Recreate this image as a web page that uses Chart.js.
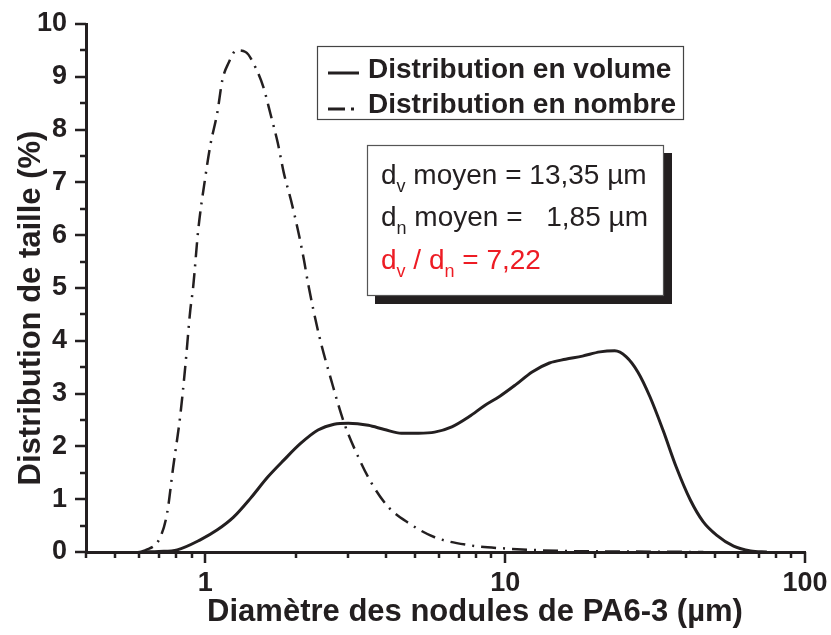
<!DOCTYPE html>
<html>
<head>
<meta charset="utf-8">
<script src="https://cdn.jsdelivr.net/npm/chart.js@4.4.1/dist/chart.umd.min.js"></script>
<style>
  body { margin: 0; background: #fff; }
  #wrap { width: 831px; height: 635px; }
</style>
</head>
<body>
<div id="wrap"><canvas id="graphique" width="831" height="635"></canvas></div>
<script>
// Distribution en volume (diamètre en µm, %)
const volumeX = [0.62, 0.7, 0.806, 0.962, 1.097, 1.242, 1.416, 1.615, 1.827, 2.083, 2.376, 2.69, 2.996, 3.497, 3.955, 4.51, 5.14, 5.82, 6.64, 7.57, 8.57, 9.6, 10.8, 12.3, 14.05, 15.9, 18.1, 20.7, 23.2, 25.3, 27.7, 30.4, 33.6, 37.2, 41.5, 45.8, 50.7, 57.8, 65.9, 74.6];
const volumeY = [0, 0.01, 0.04, 0.23, 0.42, 0.66, 1.02, 1.42, 1.74, 2.06, 2.31, 2.42, 2.44, 2.40, 2.32, 2.25, 2.25, 2.27, 2.37, 2.56, 2.78, 2.95, 3.16, 3.41, 3.58, 3.65, 3.71, 3.79, 3.81, 3.70, 3.41, 2.94, 2.31, 1.61, 0.98, 0.57, 0.32, 0.11, 0.02, 0];

// Distribution en nombre
const nombreX = [0.6, 0.63, 0.706, 0.746, 0.781, 0.824, 0.857, 0.891, 0.911, 0.947, 1.0, 1.039, 1.097, 1.14, 1.195, 1.27, 1.362, 1.472, 1.565, 1.652, 1.744, 1.827, 1.929, 2.036, 2.133, 2.199, 2.394, 2.628, 2.905, 3.237, 3.579, 4.08, 4.76, 5.82, 7.57, 9.77, 15.5, 25, 45.8];
const nombreY = [0, 0.03, 0.27, 0.74, 1.6, 2.56, 3.5, 4.58, 5.02, 6.1, 7.1, 7.7, 8.33, 8.94, 9.26, 9.5, 9.47, 9.17, 8.79, 8.28, 7.75, 7.18, 6.67, 6.1, 5.53, 5.1, 4.11, 3.26, 2.44, 1.8, 1.31, 0.85, 0.55, 0.28, 0.13, 0.07, 0.02, 0.01, 0];

// Graduations
const xMajeures = [1, 10, 100];
const xMineures = [0.4, 0.5, 0.6, 0.7, 0.8, 0.9, 2, 3, 4, 5, 6, 7, 8, 9, 20, 30, 40, 50, 60, 70, 80, 90];
const yMajeures = [0, 1, 2, 3, 4, 5, 6, 7, 8, 9, 10];
const yMineures = [0.5, 1.5, 2.5, 3.5, 4.5, 5.5, 6.5, 7.5, 8.5, 9.5];

const encre = '#231f20';
const rouge = '#ed1c24';
const police = '"Liberation Sans", Arial, Helvetica, sans-serif';

function points(xs, ys) {
    return xs.map(function (x, i) { return { x: x, y: ys[i] }; });
}

// Graduations, titres, légende et encadré
const decor = {
    id: 'decor',
    afterDraw: function (chart) {
        const ctx = chart.ctx;
        const sx = chart.scales.x;
        const sy = chart.scales.y;
        const bas = chart.chartArea.bottom;
        const gauche = chart.chartArea.left;

        ctx.save();
        ctx.strokeStyle = encre;
        ctx.lineWidth = 2.5;
        ctx.beginPath();
        xMajeures.forEach(function (v) {
            const p = Math.round(sx.getPixelForValue(v));
            ctx.moveTo(p, bas); ctx.lineTo(p, bas + 11);
        });
        xMineures.forEach(function (v) {
            const p = Math.round(sx.getPixelForValue(v));
            ctx.moveTo(p, bas); ctx.lineTo(p, bas + 6);
        });
        yMajeures.forEach(function (v) {
            const p = Math.round(sy.getPixelForValue(v));
            ctx.moveTo(gauche, p); ctx.lineTo(gauche - 11, p);
        });
        yMineures.forEach(function (v) {
            const p = Math.round(sy.getPixelForValue(v));
            ctx.moveTo(gauche, p); ctx.lineTo(gauche - 6, p);
        });
        ctx.stroke();

        // Titres des axes
        ctx.fillStyle = encre;
        ctx.font = 'bold 31px ' + police;
        ctx.textAlign = 'center';
        ctx.textBaseline = 'alphabetic';
        ctx.fillText('Diamètre des nodules de PA6-3 (µm)', 475, 621);
        ctx.save();
        ctx.translate(40, 308);
        ctx.rotate(-Math.PI / 2);
        ctx.fillText('Distribution de taille (%)', 0, 0);
        ctx.restore();

        // Légende
        ctx.fillStyle = '#fff';
        ctx.fillRect(317, 46, 366, 73);
        ctx.strokeStyle = '#444';
        ctx.lineWidth = 1.2;
        ctx.strokeRect(317.5, 46.5, 366, 73);
        ctx.strokeStyle = encre;
        ctx.lineWidth = 3;
        ctx.beginPath();
        ctx.moveTo(328, 73); ctx.lineTo(359, 73);
        ctx.moveTo(328, 109); ctx.lineTo(345, 109);
        ctx.moveTo(351, 109); ctx.lineTo(354, 109);
        ctx.stroke();
        ctx.fillStyle = encre;
        ctx.font = 'bold 28px ' + police;
        ctx.textAlign = 'left';
        ctx.fillText('Distribution en volume', 368, 78);
        ctx.fillText('Distribution en nombre', 368, 113);

        // Encadré des diamètres moyens
        ctx.fillStyle = encre;
        ctx.fillRect(375, 153, 297, 151);
        ctx.fillStyle = '#fff';
        ctx.fillRect(367, 145, 296, 150);
        ctx.strokeStyle = '#555';
        ctx.lineWidth = 1.2;
        ctx.strokeRect(367.5, 145.5, 296, 150);

        function ligne(morceaux, x, y, couleur) {
            ctx.fillStyle = couleur;
            morceaux.forEach(function (m) {
                ctx.font = (m.sub ? '18px ' : '28px ') + police;
                ctx.fillText(m.t, x, m.sub ? y + 8 : y);
                x += ctx.measureText(m.t).width;
            });
        }
        ctx.textAlign = 'left';
        ligne([{ t: 'd' }, { t: 'v', sub: true }, { t: ' moyen = 13,35 µm' }], 381, 184, encre);
        ligne([{ t: 'd' }, { t: 'n', sub: true }, { t: ' moyen =' }], 381, 226, encre);
        ctx.textAlign = 'right';
        ctx.font = '28px ' + police;
        ctx.fillText('1,85 µm', 648, 226);
        ctx.textAlign = 'left';
        ligne([{ t: 'd' }, { t: 'v', sub: true }, { t: ' / d' }, { t: 'n', sub: true }, { t: ' = 7,22' }], 381, 269, rouge);
        ctx.restore();
    }
};

new Chart(document.getElementById('graphique'), {
    type: 'line',
    data: {
        datasets: [
            {
                label: 'Distribution en volume',
                data: points(volumeX, volumeY),
                borderColor: encre,
                borderWidth: 3,
                pointRadius: 0,
                cubicInterpolationMode: 'monotone',
                fill: false
            },
            {
                label: 'Distribution en nombre',
                data: points(nombreX, nombreY),
                borderColor: encre,
                borderWidth: 2.5,
                borderDash: [15, 7, 2, 7],
                pointRadius: 0,
                cubicInterpolationMode: 'monotone',
                fill: false
            }
        ]
    },
    options: {
        responsive: false,
        animation: false,
        layout: { padding: { top: 24, right: 26, left: 0, bottom: 0 } },
        plugins: { legend: { display: false }, tooltip: { enabled: false } },
        scales: {
            x: {
                type: 'logarithmic',
                min: 0.4,
                max: 100,
                grid: { display: false, drawTicks: false },
                border: { display: true, color: encre, width: 3 },
                afterBuildTicks: function (s) {
                    s.ticks = xMajeures.map(function (v) { return { value: v }; });
                },
                afterFit: function (s) {
                    s.height = 83;
                    s.paddingLeft = 0; s.paddingRight = 0;
                    s.paddingTop = 0; s.paddingBottom = 0;
                },
                ticks: {
                    autoSkip: false,
                    maxRotation: 0,
                    padding: 15,
                    color: encre,
                    font: { family: police, size: 27, weight: 'bold' },
                    callback: function (v) { return String(v); }
                }
            },
            y: {
                min: 0,
                max: 10,
                grid: { display: false, drawTicks: false },
                border: { display: true, color: encre, width: 3 },
                afterBuildTicks: function (s) {
                    s.ticks = yMajeures.map(function (v) { return { value: v }; });
                },
                afterFit: function (s) {
                    s.width = 86;
                    s.paddingLeft = 0; s.paddingRight = 0;
                    s.paddingTop = 0; s.paddingBottom = 0;
                },
                ticks: {
                    padding: 19,
                    color: encre,
                    font: { family: police, size: 27, weight: 'bold' },
                    callback: function (v) { return String(v); }
                }
            }
        }
    },
    plugins: [decor]
});
</script>
</body>
</html>
